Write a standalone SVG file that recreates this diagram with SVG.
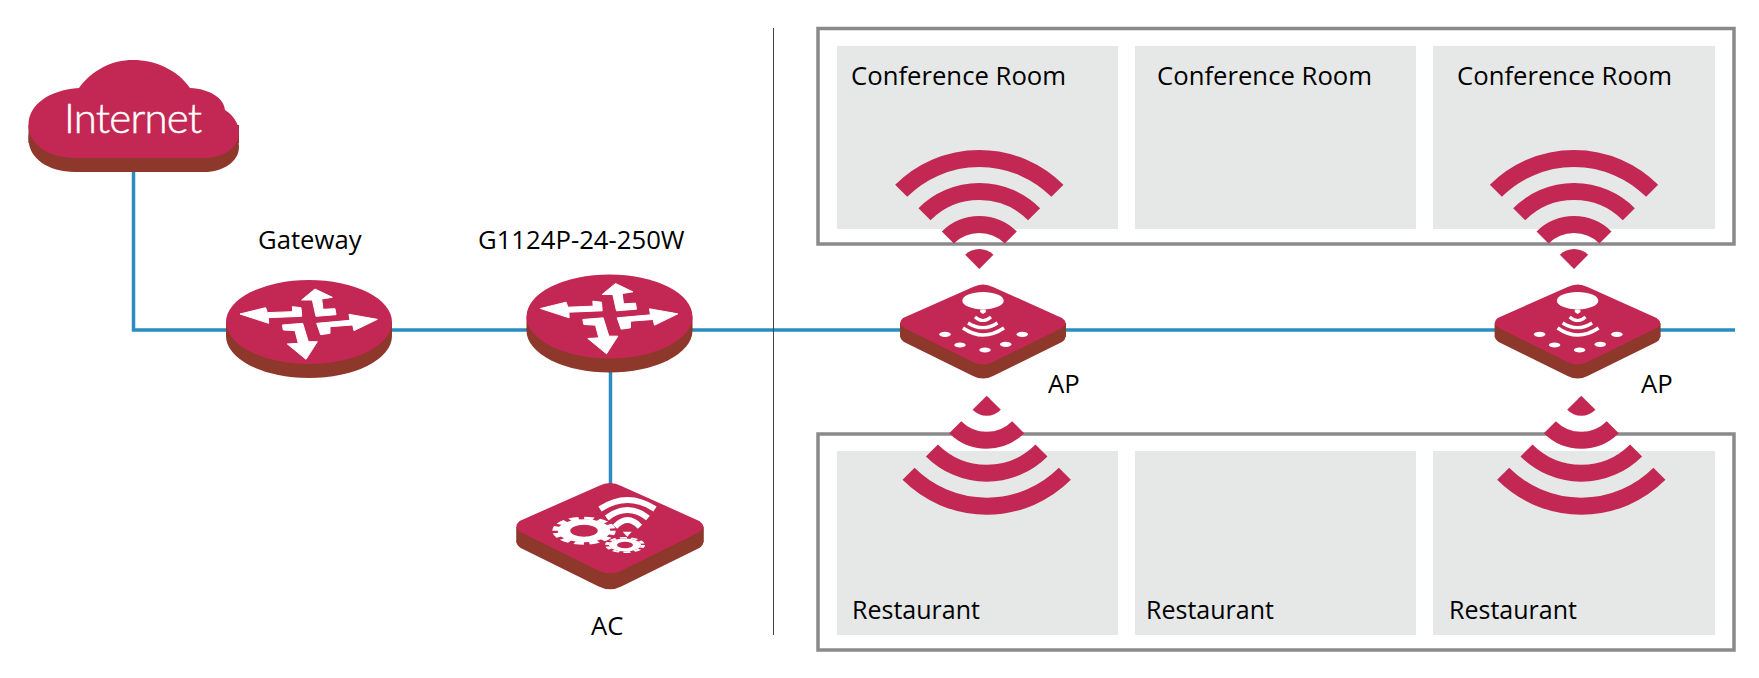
<svg xmlns="http://www.w3.org/2000/svg" width="1759" height="678" viewBox="0 0 1759 678">
<style>
.t{font-family:"Open Sans","Noto Sans",sans-serif;font-size:25.700px;fill:#000}
.r{font-size:25px}
.m{fill:#c32753}.b{fill:#8e372b}.w{fill:#fff}
.ws{fill:none;stroke:#fff}
.fan{fill:none;stroke:#c32753;stroke-width:17}
.room{fill:#e6e8e7}
.frame{fill:none;stroke:#8a8a8a;stroke-width:3.500}
.link{fill:none;stroke:#2a8cc0;stroke-width:3.500}
</style>
<defs>
<g id="router">
<ellipse class="b" cx="0" cy="14" rx="83" ry="42"/>
<rect class="b" x="-83" y="0" width="166" height="14"/>
<ellipse class="m" cx="0" cy="0" rx="83" ry="42"/>
<g transform="scale(.3333)" class="w" stroke="#fff" stroke-width="3">
<polygon points="-207,-24 -130,-43 -125,-28 -49,-31 -50,-46 -24,-43 -22,-17 -122,-13 -121,4"/>
<polygon points="18,-99 70,-74 38,-69 42,-38 78,-40 81,-22 21,-17 10,-66 -22,-66"/>
<polygon points="205,-8 135,26 131,9 63,14 63,34 35,38 23,4 123,-5 120,-23"/>
<polygon points="-9,112 -65,66 -32,64 -42,26 -77,24 -80,9 -19,4 -2,59 25,59"/>
</g>
</g>
<g id="plate">
<path class="b" d="M-80,6L-10,-25Q0,-30 10,-25L79,6Q86,11 79,16L10,50Q0,55 -10,50L-79,16Q-86,11 -80,6Z"/>
<rect class="b" x="-83" y="-3" width="166" height="14"/>
<path class="m" d="M-80,-8L-10,-39Q0,-44 10,-39L79,-8Q86,-3 79,2L10,36Q0,41 -10,36L-79,2Q-86,-3 -80,-8Z"/>
</g>
<g id="fan">
<path class="m" d="M0,0L-14.140,-14.140A20,20 0 0 1 14.140,-14.140Z"/>
<path class="fan" d="M-31.470,-31.470A44.500,44.500 0 0 1 31.470,-31.470"/>
<path class="fan" d="M-54.800,-54.800A77.500,77.500 0 0 1 54.800,-54.800"/>
<path class="fan" d="M-78.140,-78.140A110.500,110.500 0 0 1 78.140,-78.140"/>
</g>
<g id="ap">
<use href="#plate"/>
<ellipse class="w" cx="0" cy="-25.300" rx="20.700" ry="8.700"/>
<polygon class="w" points="-2.500,-16.500 2.500,-16.500 3,-14 0,-12 -3,-14"/>
<path class="ws" stroke-width="3" d="M-8,-9Q0,-2 8,-9"/>
<path class="ws" stroke-width="3.300" d="M-15,-3Q0,6.400 14.500,-3"/>
<path class="ws" stroke-width="3.500" d="M-20,2Q0,16 21,2"/>
<ellipse class="w" cx="-38" cy="8.300" rx="5.700" ry="2.600"/>
<ellipse class="w" cx="-23" cy="19" rx="5.700" ry="2.600"/>
<ellipse class="w" cx="2" cy="24" rx="5.700" ry="2.600"/>
<ellipse class="w" cx="22.700" cy="18.300" rx="5.700" ry="2.600"/>
<ellipse class="w" cx="39.300" cy="8.300" rx="5.700" ry="2.600"/>
</g>
</defs>

<g id="rooms">
<rect class="room" x="837" y="46" width="281" height="183"/>
<rect class="room" x="1135" y="46" width="281" height="183"/>
<rect class="room" x="1433" y="46" width="282" height="183"/>
<rect class="room" x="837" y="451" width="281" height="184"/>
<rect class="room" x="1135" y="451" width="281" height="184"/>
<rect class="room" x="1433" y="451" width="282" height="184"/>
<rect class="frame" x="818" y="28.500" width="916" height="215.500"/>
<rect class="frame" x="818" y="434" width="916" height="216"/>
<text class="t" x="851" y="85">Conference Room</text>
<text class="t" x="1157" y="85">Conference Room</text>
<text class="t" x="1457" y="85">Conference Room</text>
<text class="t r" x="852" y="619">Restaurant</text>
<text class="t r" x="1146" y="619">Restaurant</text>
<text class="t r" x="1449" y="619">Restaurant</text>
</g>

<g id="connectors">
<path class="link" d="M133.500,168V330H240"/>
<path class="link" d="M380,330H540"/>
<path class="link" d="M680,330H1735"/>
<path class="link" d="M610.500,370V486"/>
<line x1="773.500" y1="28" x2="773.500" y2="635" stroke="#444" stroke-width="1"/>
</g>

<g id="internet">
<path class="b" d="M28.500,139C28.500,118 50,104 79,102C92,84 112,74 133,74C155,74 178,84 190,102C210,103 224,112 225,124C234,130 239,138 239,147C239,162 222,172 205,172H75C48,172 28.500,158 28.500,139Z"/>
<rect class="b" x="28.500" y="125" width="210.500" height="18"/>
<path class="m" d="M28.500,125C28.500,104 50,90 79,88C92,70 112,60 133,60C155,60 178,70 190,88C210,89 224,98 225,110C234,116 239,124 239,133C239,148 222,158 205,158H75C48,158 28.500,144 28.500,125Z"/>
<text x="64" y="133" style="font-family:Lato,'Open Sans',sans-serif;font-weight:300;font-size:42px;letter-spacing:-.8px;fill:#fff;stroke:#fff;stroke-width:.5px">Internet</text>
</g>

<g id="gateway">
<use href="#router" x="309" y="322"/>
<text class="t" x="258" y="249">Gateway</text>
</g>

<g id="switch">
<use href="#router" x="609.500" y="316.500"/>
<text class="t" x="478" y="249">G1124P-24-250W</text>
</g>

<g id="ac">
<g transform="translate(610,530) scale(1.13)"><use href="#plate"/></g>
<g transform="translate(584,530.700) scale(1,.44)">
<circle r="20" fill="none" stroke="#fff" stroke-width="12.500"/>
<circle r="28.500" fill="none" stroke="#fff" stroke-width="6.500" stroke-dasharray="9.500 5.420"/>
</g>
<g transform="translate(625,545) scale(1,.4)">
<circle r="12" fill="none" stroke="#fff" stroke-width="8"/>
<circle r="18" fill="none" stroke="#fff" stroke-width="4" stroke-dasharray="7 4.310"/>
</g>
<path class="ws" stroke-width="6" d="M600,509Q627.500,491 655,509"/>
<path class="ws" stroke-width="6" d="M606.700,518Q627.500,502 648,518"/>
<path class="ws" stroke-width="6" d="M615,526.700Q627.500,513.500 640,526.700"/>
<polygon class="w" points="622.700,531.700 631.700,531.700 627.300,536.700"/>
<text class="t" x="591" y="635">AC</text>
</g>

<g id="ap1">
<use href="#fan" x="979.300" y="269"/>
<g transform="translate(986.700,395.700) rotate(180)"><use href="#fan"/></g>
<use href="#ap" x="983" y="326"/>
<text class="t" x="1048" y="393">AP</text>
</g>

<g id="ap2">
<use href="#fan" x="1574" y="269"/>
<g transform="translate(1581.300,395.700) rotate(180)"><use href="#fan"/></g>
<use href="#ap" x="1577.600" y="326"/>
<text class="t" x="1641" y="393">AP</text>
</g>
</svg>
